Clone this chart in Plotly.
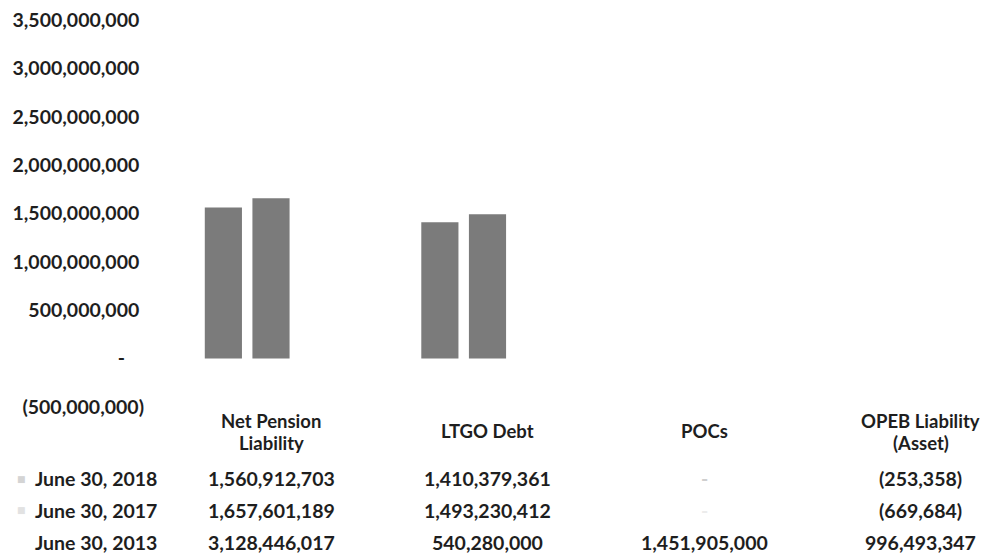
import plotly.graph_objects as go

# ---- data ----
categories = ["Net Pension<br>Liability", "LTGO Debt", "POCs", "OPEB Liability<br>(Asset)"]
series_names = ["June 30, 2018", "June 30, 2017", "June 30, 2013"]
values_2018 = [1560912703, 1410379361, 0, -253358]
values_2017 = [1657601189, 1493230412, 0, -669684]
values_2013 = [3128446017, 540280000, 1451905000, 996493347]
series_values = [values_2018, values_2017, values_2013]
series_colors = ["#7b7b7b", "#7b7b7b", "#ffffff"]
marker_colors = ["#d4d4d4", "#e2e2e2", "#ffffff"]
tick_values = [-500000000, 0, 500000000, 1000000000, 1500000000,
               2000000000, 2500000000, 3000000000, 3500000000]

FONT = "Lato"
FS = 19.5
HFS = 18.5
TXT = "#1e1e1e"
OFF = 8  # page body margin
W, H = 988 - OFF, 556 - OFF
ML, MR = 145 - OFF, 0
MT, MB = 18 - OFF, H - (407 - OFF)
plot_w = W - ML - MR
plot_h = H - MT - MB
col_space = 216.5
first_center = 271 - OFF
y_min, y_max = -500000000, 3500000000
eps = 1000000


def acct(v):
    if v == 0:
        return "-"
    if v < 0:
        return "({:,})".format(-v)
    return "{:,}".format(v)


def tick_fmt(v):
    if v == 0:
        return "-" + "\u00a0" * 4
    if v < 0:
        return "({:,})".format(-v)
    return "{:,}".format(v) + "\u00a0"


x_idx = list(range(len(categories)))
fig = go.Figure()
px_per_unit = plot_h / (y_max - y_min)
for name, vals, col in zip(series_names, series_values, series_colors):
    # bars thinner than one pixel are not drawn (as in the reference)
    cols = [col if abs(v) * px_per_unit >= 1 else "rgba(0,0,0,0)" for v in vals]
    fig.add_trace(go.Bar(x=x_idx, y=vals, name=name,
                         marker=dict(color=cols, line=dict(width=0)),
                         showlegend=False))

x0 = (ML - first_center) / col_space
x1 = (W - MR - first_center) / col_space


def py(page_y):
    fy = page_y - OFF
    return (H - MB - fy) / plot_h


def px_x(page_x):
    return (page_x - OFF - ML) / plot_w


def bold_font(color=TXT, size=FS):
    return dict(family=FONT, size=size, color=color, weight="bold")


annotations = []
# column headers
for i, c in enumerate(categories):
    lines = c.split("<br>")
    ys = [431] if len(lines) == 1 else [421, 443]
    for line, yy in zip(lines, ys):
        annotations.append(dict(x=i, y=py(yy), xref="x", yref="paper", text=line,
                                showarrow=False, xanchor="center", yanchor="middle",
                                font=bold_font(size=HFS)))
row_y = [479, 511, 543]
for r, (name, vals) in enumerate(zip(series_names, series_values)):
    annotations.append(dict(x=px_x(33), y=py(row_y[r]), xref="paper", yref="paper", text=name,
                            showarrow=False, xanchor="left", yanchor="middle",
                            font=bold_font()))
    annotations.append(dict(x=px_x(21), y=py(row_y[r]), xref="paper", yref="paper", text="\u25a0",
                            showarrow=False, xanchor="center", yanchor="middle",
                            font=dict(family="DejaVu Sans", size=9, color=marker_colors[r])))
    for i, v in enumerate(vals):
        color = TXT if v != 0 else ("#cfcfcf" if r == 0 else "#ececec")
        annotations.append(dict(x=i, y=py(row_y[r]), xref="x", yref="paper", text=acct(v),
                                showarrow=False, xanchor="center", yanchor="middle",
                                font=bold_font(color)))

fig.update_layout(
    width=W, height=H,
    margin=dict(l=ML, r=MR, t=MT, b=MB),
    paper_bgcolor="white", plot_bgcolor="white",
    barmode="group", bargap=0.34, bargroupgap=0.22,
    showlegend=False,
    xaxis=dict(range=[x0, x1], showticklabels=False, showgrid=False, zeroline=False,
               showline=False, ticks=""),
    yaxis=dict(range=[y_min - eps, y_max + eps], tickvals=tick_values,
               ticktext=[tick_fmt(v) for v in tick_values],
               showgrid=False, zeroline=False, showline=False, ticks="",
               ticklabeloverflow="allow",
               tickfont=bold_font()),
    annotations=annotations,
)

fig.write_html("out.html")
